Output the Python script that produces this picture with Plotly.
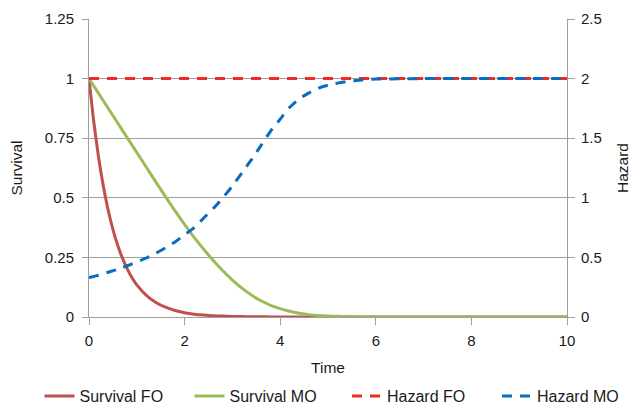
import plotly.graph_objects as go

time = [0, 0.1, 0.2, 0.3, 0.4, 0.5, 0.6, 0.7, 0.8, 0.9, 1.0,
        1.2, 1.4, 1.6, 1.8, 2.0, 2.2, 2.4, 2.6, 2.8, 3.0,
        3.2, 3.4, 3.6, 3.8, 4.0, 4.2, 4.4, 4.6, 4.8, 5.0,
        5.2, 5.4, 5.6, 5.8, 6.0, 7, 8, 9, 10]

survival_fo = [1.0, 0.819, 0.670, 0.549, 0.449, 0.368, 0.301, 0.247, 0.202, 0.165, 0.135,
               0.091, 0.061, 0.041, 0.027, 0.018, 0.012, 0.008, 0.0055, 0.0037, 0.0025,
               0.0017, 0.0011, 0.0007, 0.0005, 0.0003, 0.0002, 0.0001, 0.0001, 0.0, 0.0,
               0.0, 0.0, 0.0, 0.0, 0.0, 0.0, 0.0, 0.0, 0.0]

survival_mo = [1.0, 0.969, 0.938, 0.907, 0.876, 0.845, 0.814, 0.783, 0.752, 0.721, 0.69,
               0.628, 0.566, 0.505, 0.445, 0.388, 0.334, 0.284, 0.237, 0.194, 0.155,
               0.121, 0.092, 0.068, 0.049, 0.035, 0.024, 0.016, 0.010, 0.006, 0.004,
               0.003, 0.002, 0.001, 0.0005, 0.0, 0.0, 0.0, 0.0, 0.0]

hazard_fo = [2.0] * len(time)

hazard_mo = [0.33, 0.34, 0.35, 0.362, 0.375, 0.388, 0.40, 0.415, 0.43, 0.445, 0.46,
             0.495, 0.535, 0.58, 0.63, 0.69, 0.75, 0.83, 0.91, 1.00, 1.10,
             1.21, 1.32, 1.44, 1.56, 1.66, 1.76, 1.83, 1.88, 1.92, 1.945,
             1.962, 1.975, 1.985, 1.992, 1.996, 2.0, 2.0, 2.0, 2.0]

x_ticks = [0, 2, 4, 6, 8, 10]
y1_ticks = [0, 0.25, 0.5, 0.75, 1, 1.25]
y1_labels = ["0", "0.25", "0.5", "0.75", "1", "1.25"]
y2_ticks = [0, 0.5, 1, 1.5, 2, 2.5]
y2_labels = ["0", "0.5", "1", "1.5", "2", "2.5"]

FONT = "Liberation Sans, Arial, sans-serif"
TXT = "#1a1a1a"
GRID = "#9e9e9e"
FS = 15
TFS = 15.5
LFS = 16

fig = go.Figure()
fig.add_trace(go.Scatter(x=time, y=survival_fo, name="Survival FO", mode="lines", legend="legend",
                         line=dict(color="#C0504D", width=3, shape="spline", smoothing=0.6)))
fig.add_trace(go.Scatter(x=time, y=survival_mo, name="Survival MO", mode="lines", legend="legend2",
                         line=dict(color="#9BBB59", width=3, shape="spline", smoothing=0.6)))
fig.add_trace(go.Scatter(x=time, y=hazard_fo, name="Hazard FO", mode="lines", yaxis="y2", legend="legend3",
                         line=dict(color="#EE2B2B", width=3, dash="10px,8px")))
fig.add_trace(go.Scatter(x=time, y=hazard_mo, name="Hazard MO", mode="lines", yaxis="y2", legend="legend4",
                         line=dict(color="#0A6CC0", width=3, dash="10px,8px", shape="spline", smoothing=0.6)))

L0, PW = 89, 478
def leg(px):
    return dict(orientation="h", x=(px - L0) / PW, xanchor="left", y=-0.2655, yanchor="middle",
                font=dict(size=LFS, color=TXT, family=FONT), bgcolor="rgba(0,0,0,0)",
                borderwidth=0)

fig.update_layout(
    width=635, height=405,
    margin=dict(l=89, r=68, t=19, b=88, autoexpand=False),
    paper_bgcolor="white", plot_bgcolor="white",
    font=dict(family=FONT, size=FS, color=TXT),
    showlegend=True,
    legend=leg(39.5), legend2=leg(189.5), legend3=leg(347), legend4=leg(497),
    xaxis=dict(range=[0, 10], tickvals=x_ticks, ticks="outside", ticklen=7, tickcolor=GRID,
               showline=True, linecolor=GRID, linewidth=1, showgrid=False, zeroline=False,
               ticklabelstandoff=3, tickfont=dict(size=FS),
               title=dict(text="Time", standoff=14, font=dict(size=TFS)), automargin=False),
    yaxis=dict(range=[0, 1.25], tickvals=y1_ticks, ticktext=y1_labels, ticks="outside",
               ticklen=6, tickcolor=GRID, showline=True, linecolor=GRID, linewidth=1,
               showgrid=True, gridcolor=GRID, gridwidth=1, zeroline=False,
               ticklabelstandoff=5, tickfont=dict(size=FS),
               title=dict(text="Survival", standoff=18, font=dict(size=TFS)), automargin=False),
    yaxis2=dict(range=[0, 2.5], tickvals=y2_ticks, ticktext=y2_labels, overlaying="y",
                side="right", ticks="outside", ticklen=7, tickcolor=GRID, showline=True,
                linecolor=GRID, linewidth=1, showgrid=False, zeroline=False,
                ticklabelstandoff=3, tickfont=dict(size=FS),
                title=dict(text="Hazard", standoff=16, font=dict(size=TFS)), automargin=False),
)

fig.write_html("out.html", config={"displayModeBar": False},
               post_script="document.body.style.margin='0px';document.body.style.padding='0px';")
